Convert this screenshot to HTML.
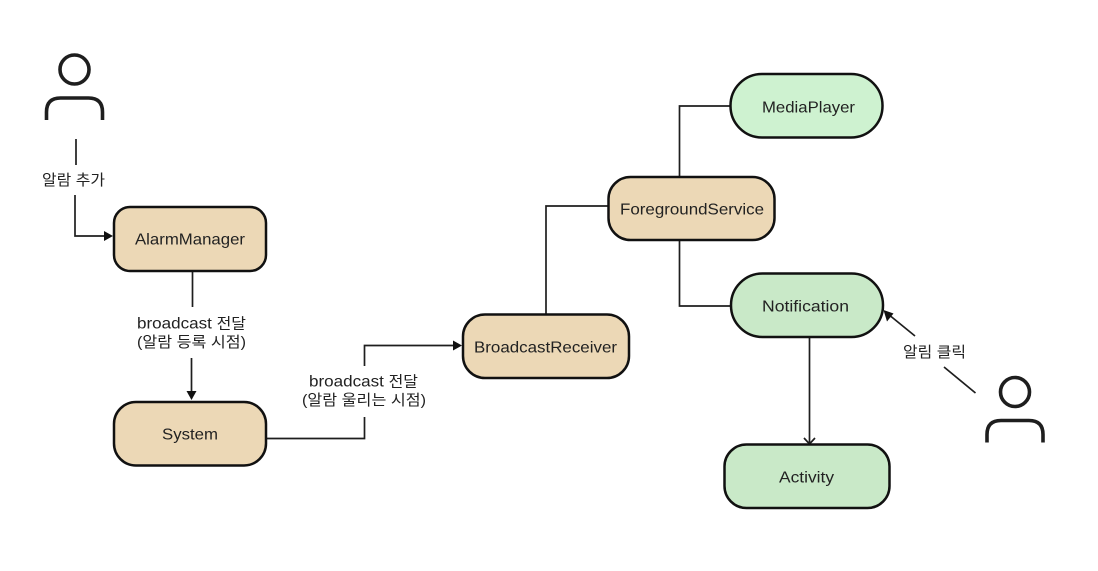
<!DOCTYPE html>
<html><head><meta charset="utf-8"><style>
html,body{margin:0;padding:0;background:#fff;width:1098px;height:571px;overflow:hidden}
svg{display:block}
text{font-family:"Liberation Sans","Noto Sans CJK KR",sans-serif;font-size:16px;fill:#222}
text.k{font-size:15px}
tspan.k{font-size:15px}
.n{stroke:#111;stroke-width:2.5}
.l{fill:none;stroke:#1e1e1e;stroke-width:1.7}
.p{fill:none;stroke:#1e1e1e;stroke-width:3.6}
</style></head><body>
<svg width="1098" height="571" viewBox="0 0 1098 571" xmlns="http://www.w3.org/2000/svg">
<rect width="1098" height="571" fill="#fff"/>
<!-- connectors -->
<path class="l" d="M76 139V165M75 195V236H105"/>
<path d="M113 236L104 231V241Z" fill="#111"/>
<path class="l" d="M192.500 271V307M191.500 358V393"/>
<path d="M191.500 400L186.500 391H196.500Z" fill="#111"/>
<path class="l" d="M266 438.500H364.500V417M364.500 366V345.500H454"/>
<path d="M462 345.500L453 340.500V350.500Z" fill="#111"/>
<path class="l" d="M546 314V206H608"/>
<path class="l" d="M679.500 177V106H730"/>
<path class="l" d="M679.500 240V306H731"/>
<path class="l" d="M809.500 337V444M804 438L809.500 444L815 438"/>
<path class="l" d="M975.500 393L944 367M915 336L888 314"/>
<path d="M883.500 310L893.500 313.500L887 321.500Z" fill="#111"/>
<!-- nodes -->
<rect class="n" x="114" y="207" width="152" height="64" rx="16" fill="#ecd8b6"/>
<rect class="n" x="114" y="402" width="152" height="63.500" rx="22" fill="#ecd8b6"/>
<rect class="n" x="463" y="314.500" width="166" height="63.500" rx="22" fill="#ecd8b6"/>
<rect class="n" x="608.500" y="177" width="166" height="63" rx="22" fill="#ecd8b6"/>
<rect class="n" x="730.500" y="74" width="152" height="63.500" rx="31.500" fill="#cef2d0"/>
<rect class="n" x="731" y="273.500" width="152" height="63.500" rx="31.500" fill="#c9e9c8"/>
<rect class="n" x="724.500" y="444.500" width="165" height="63.500" rx="22" fill="#c9e9c8"/>
<!-- persons -->
<circle class="p" cx="74.500" cy="69.500" r="14.500"/>
<path class="p" d="M46.500 120V112Q46.500 98 60.500 98H88.500Q102.500 98 102.500 112V120"/>
<circle class="p" cx="1015" cy="392" r="14.500"/>
<path class="p" d="M987 442.500V434.500Q987 420.500 1001 420.500H1029Q1043 420.500 1043 434.500V442.500"/>
<!-- node labels -->
<text x="135" y="244.500" textLength="110" lengthAdjust="spacingAndGlyphs">AlarmManager</text>
<text x="162" y="439.500" textLength="56" lengthAdjust="spacingAndGlyphs">System</text>
<text x="474" y="352.500" textLength="143" lengthAdjust="spacingAndGlyphs">BroadcastReceiver</text>
<text x="620" y="214.500" textLength="144" lengthAdjust="spacingAndGlyphs">ForegroundService</text>
<text x="762" y="112.500" textLength="93" lengthAdjust="spacingAndGlyphs">MediaPlayer</text>
<text x="762" y="311.500" textLength="87" lengthAdjust="spacingAndGlyphs">Notification</text>
<text x="779" y="482.500" textLength="55" lengthAdjust="spacingAndGlyphs">Activity</text>
<!-- edge labels -->
<text class="k" x="42" y="185" textLength="63" lengthAdjust="spacingAndGlyphs">알람 추가</text>
<text x="137" y="328.500" textLength="109" lengthAdjust="spacingAndGlyphs">broadcast <tspan class="k">전달</tspan></text>
<text class="k" x="137" y="347" textLength="109" lengthAdjust="spacingAndGlyphs">(알람 등록 시점)</text>
<text x="309" y="386.500" textLength="109" lengthAdjust="spacingAndGlyphs">broadcast <tspan class="k">전달</tspan></text>
<text class="k" x="302" y="405" textLength="124" lengthAdjust="spacingAndGlyphs">(알람 울리는 시점)</text>
<text class="k" x="903" y="357" textLength="63" lengthAdjust="spacingAndGlyphs">알림 클릭</text>
</svg>
</body></html>
